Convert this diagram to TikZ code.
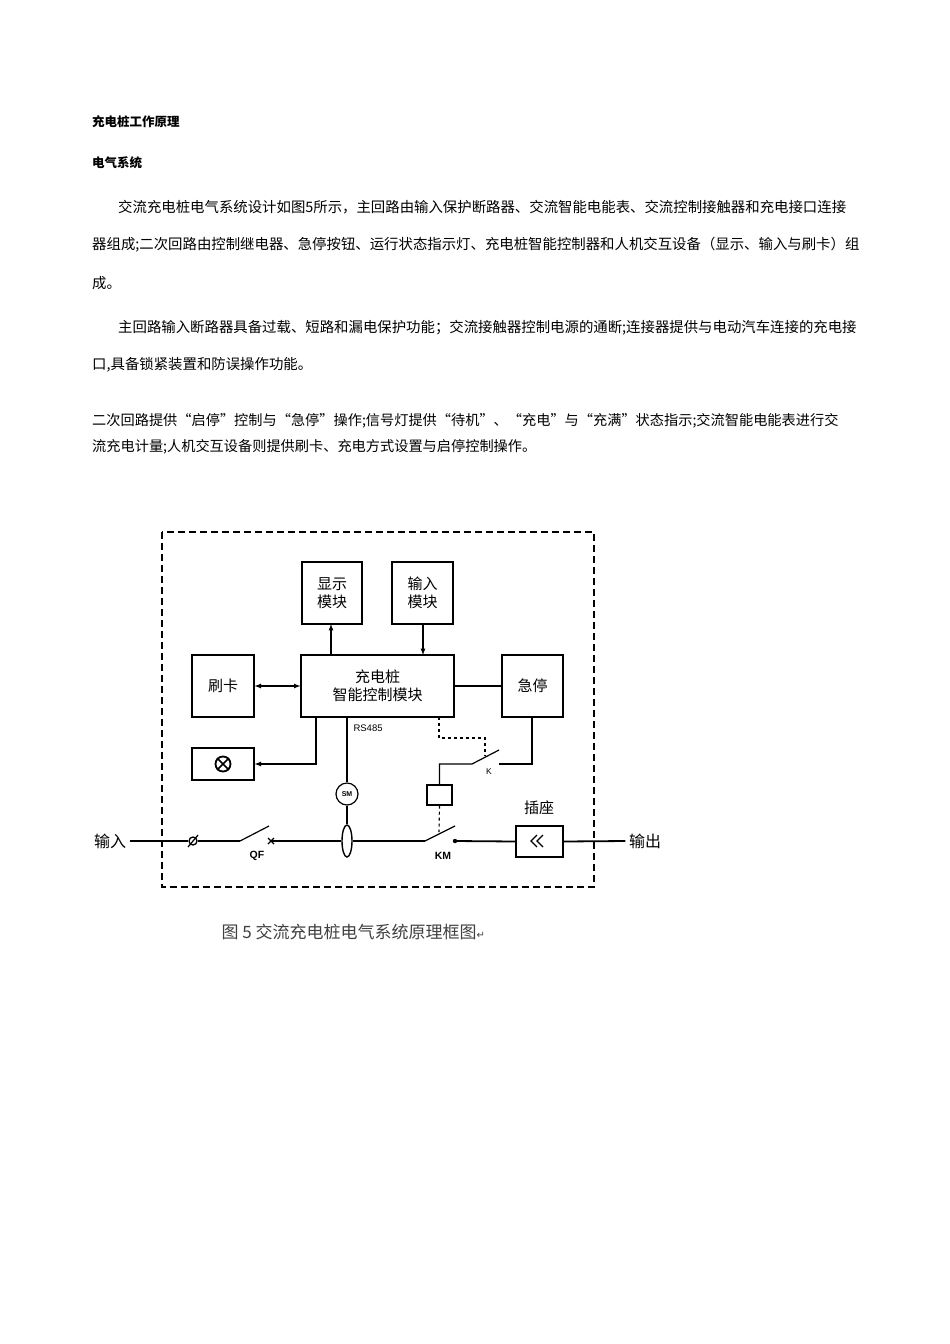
\documentclass[tikz,border=0pt]{standalone}
\usepackage{fontspec}
\usetikzlibrary{shapes.geometric,calc}
\newfontfamily\cjk{Noto Sans CJK SC}
\newfontfamily\lat{Liberation Sans}
\newfontfamily\dvs{DejaVu Sans}
\begin{document}
\begin{tikzpicture}[x=1pt,y=-1pt,
  txt/.style={anchor=west,inner sep=0,font=\cjk\fontsize{14.4}{16}\selectfont},
  box/.style={draw,line width=1.2pt,inner sep=0},
  dl/.style={font=\cjk\fontsize{15}{18}\selectfont,align=center},
  ln/.style={line width=1.2pt},
  arr/.style={line width=1.2pt,-latex}]
\useasboundingbox (0,0) rectangle (950,1344);
\node[txt,font=\cjk\bfseries\fontsize{12.5}{14}\selectfont] (t1) at (92,122) {充电桩工作原理};
\node[txt,font=\cjk\bfseries\fontsize{12.5}{14}\selectfont] (t2) at (92,163) {电气系统};
\node[txt] (p1) at (118,207) {交流充电桩电气系统设计如图5所示，主回路由输入保护断路器、交流智能电能表、交流控制接触器和充电接口连接};
\node[txt] (p2) at (92,245) {器组成;二次回路由控制继电器、急停按钮、运行状态指示灯、充电桩智能控制器和人机交互设备（显示、输入与刷卡）组};
\node[txt] (p3) at (92,283) {成。};
\node[txt] (p4) at (118,328) {主回路输入断路器具备过载、短路和漏电保护功能；交流接触器控制电源的通断;连接器提供与电动汽车连接的充电接};
\node[txt] (p5) at (92,365) {口,具备锁紧装置和防误操作功能。};
\node[txt,font=\cjk\fontsize{14.2}{16}\selectfont] (p6) at (92,421) {二次回路提供“启停”控制与“急停”操作;信号灯提供“待机”、“充电”与“充满”状态指示;交流智能电能表进行交};
\node[txt,font=\cjk\fontsize{14.2}{16}\selectfont] (p7) at (92,447) {流充电计量;人机交互设备则提供刷卡、充电方式设置与启停控制操作。};
% frame
\draw[line width=1.2pt,dash pattern=on 7pt off 4pt] (162,532) rectangle (594,887);
\node[box,minimum width=60,minimum height=62,dl] (disp) at (332,593) {显示\\模块};
\node[box,minimum width=61,minimum height=62,dl] (inp) at (422.5,593) {输入\\模块};
\node[box,minimum width=153,minimum height=62,dl] (ctrl) at (377.5,686) {充电桩\\智能控制模块};
\node[box,minimum width=62,minimum height=62,dl] (card) at (223,686) {刷卡};
\node[box,minimum width=61,minimum height=62,dl] (estop) at (532.5,686) {急停};
\node[box,minimum width=62,minimum height=32] (lampbox) at (223,764) {};
\node[draw,circle,line width=1.8pt,minimum size=15,inner sep=0] (lamp) at (223,764) {};
\draw[line width=1.5pt] (lamp.north west) -- (lamp.south east) (lamp.north east) -- (lamp.south west);
\draw[arr] (331,655) -- (331,624);
\draw[arr] (423,624) -- (423,655);
\draw[ln,latex-latex] (card.east) -- (ctrl.west);
\draw[ln] (ctrl.east) -- (estop.west);
\coordinate (lt) at (316,717);
\draw[arr] (lt) |- (lampbox.east);
\node[font=\lat\fontsize{9.5}{10}\selectfont,anchor=west] (rs) at (350,728) {RS485};
\node[draw,circle,line width=1.2pt,minimum size=22,inner sep=0,font=\lat\bfseries\fontsize{7}{8}\selectfont] (sm) at (347,794) {SM};
\draw[ln] (347,717) -- (sm.north);
\node[draw,ellipse,line width=1.4pt,minimum width=10,minimum height=32,inner sep=0] (ct) at (347,841) {};
\draw[ln] (sm.south) -- (ct.north);
% relay / K
\node[box,minimum width=25,minimum height=20] (relay) at (439.5,795) {};
\coordinate (ka) at (472,764); \coordinate (kb) at (499,750); \coordinate (kc) at (499,764);
\draw[ln] (relay.north) |- (ka) -- (kb);
\draw[ln] (kc) -- (532,764) -- (532,717);
\draw[ln,dashed] (439,717) |- (485,738) -- (485,756);
\node[font=\lat\fontsize{8.5}{9}\selectfont] (kl) at (489,772) {K};
% main line
\node[font=\cjk\fontsize{16}{18}\selectfont] (in) at (110,841) {输入};
\node[font=\cjk\fontsize{16}{18}\selectfont] (out) at (645,841) {输出};
\node[draw,circle,line width=1.3pt,minimum size=8,inner sep=0] (o1) at (193,841) {};
\draw[ln] (188,847) -- (198,835);
\coordinate (q1) at (240,841); \coordinate (q2) at (269,826);
\coordinate (qx) at (271,841);
\draw[line width=1.8pt] (in.east) -- (o1.west);
\draw[line width=1.8pt] (o1.east) -- (q1);
\draw[ln] (q1) -- (q2);
\draw[line width=1.3pt] ($(qx)+(-3,-3)$) -- ($(qx)+(3,3)$) ($(qx)+(-3,3)$) -- ($(qx)+(3,-3)$);
\node[font=\lat\bfseries\fontsize{10.5}{12}\selectfont] (qf) at (257,856) {QF};
\coordinate (k1) at (425,841); \coordinate (k2) at (455,826); \coordinate (k3) at (455,841);
\draw[line width=1.8pt] (qx) -- (ct.west) (ct.east) -- (k1);
\draw[ln] (k1) -- (k2);
\draw[ln,dashed] (relay.south) -- (439,832);
\fill (k3) circle (2.2);
\node[box,minimum width=47,minimum height=31] (sock) at (539.5,841.5) {};
\node[font=\cjk\fontsize{15}{18}\selectfont] (sl) at (539,808) {插座};
\draw[line width=1.8pt] (k3) -- (sock.west) (sock.east) -- (out.west);
\draw[line width=1.3pt] (537,835) -- (531,841) -- (537,847) (543,835) -- (537,841) -- (543,847);
\node[font=\lat\bfseries\fontsize{10.5}{12}\selectfont] (kml) at (443,856) {KM};
\node[anchor=west,font=\cjk\fontsize{17}{20}\selectfont,text=black!75] (cap) at (218,932) {图 5 交流充电桩电气系统原理框图{\dvs\fontsize{10}{10}\selectfont ↵}};
\end{tikzpicture}
\end{document}
